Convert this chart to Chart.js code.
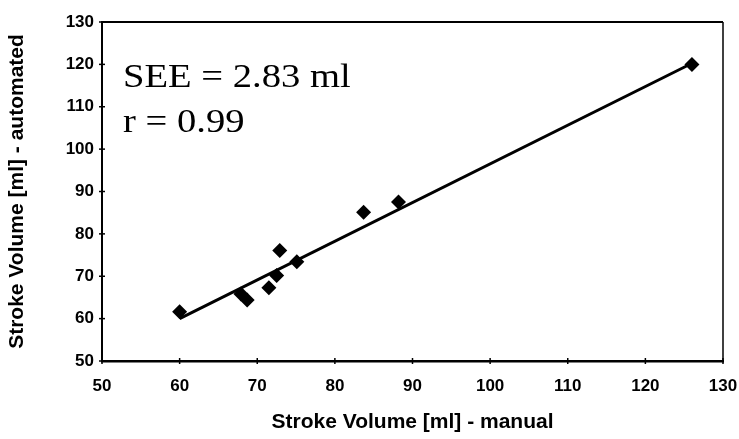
<!DOCTYPE html>
<html>
<head>
<meta charset="utf-8">
<script src="https://cdn.jsdelivr.net/npm/chart.js@4"></script>
<style>
  html, body { margin: 0; padding: 0; background: #fff; }
  canvas { display: block; }
</style>
</head>
<body>
<canvas id="c" width="739" height="439"></canvas>
<script>
// ---- data ----
const manualSV = [60.0, 67.9, 68.7, 71.5, 72.5, 72.9, 75.1, 83.7, 88.2, 126.0];
const autoSV   = [61.6, 65.8, 64.4, 67.3, 70.2, 76.1, 73.4, 85.1, 87.5, 120.0];
const fitX = [60, 125.5];
const fitY = [60.0, 119.8];
const xTicks = [50, 60, 70, 80, 90, 100, 110, 120, 130];
const yTicks = [50, 60, 70, 80, 90, 100, 110, 120, 130];
const statLines = ['SEE = 2.83 ml', 'r = 0.99'];
const xTitle = 'Stroke Volume [ml] - manual';
const yTitle = 'Stroke Volume [ml] - automated';

const points = manualSV.map((x, i) => ({ x: x, y: autoSV[i] }));
const fit = fitX.map((x, i) => ({ x: x, y: fitY[i] }));

const frameAndTicks = {
  id: 'frameAndTicks',
  afterDraw(chart) {
    const { ctx, chartArea: a, scales } = chart;
    ctx.save();
    ctx.strokeStyle = '#000';
    ctx.lineWidth = 2;
    ctx.beginPath();
    ctx.moveTo(a.left, a.top);
    ctx.lineTo(a.right, a.top);
    ctx.stroke();
    ctx.lineWidth = 1.5;
    ctx.beginPath();
    ctx.moveTo(a.right, a.top);
    ctx.lineTo(a.right, a.bottom);
    ctx.stroke();
    ctx.lineWidth = 1.5;
    xTicks.forEach(v => {
      const px = scales.x.getPixelForValue(v);
      ctx.beginPath();
      ctx.moveTo(px, a.bottom - 3);
      ctx.lineTo(px, a.bottom + 3);
      ctx.stroke();
    });
    yTicks.forEach(v => {
      const py = scales.y.getPixelForValue(v);
      ctx.beginPath();
      ctx.moveTo(a.left - 3, py);
      ctx.lineTo(a.left + 3, py);
      ctx.stroke();
    });
    ctx.restore();
  }
};

const statText = {
  id: 'statText',
  afterDraw(chart) {
    const { ctx, chartArea: a } = chart;
    ctx.save();
    ctx.fillStyle = '#000';
    ctx.font = '33px "Liberation Serif", "Times New Roman", serif';
    ctx.textBaseline = 'alphabetic';
    ctx.textAlign = 'left';
    statLines.forEach((t, i) => {
      ctx.save();
      ctx.translate(a.left + 21, a.top + 65 + i * 45);
      ctx.scale(1.17, 1);
      ctx.fillText(t, 0, 0);
      ctx.restore();
    });
    ctx.restore();
  }
};

const tickFont = { family: '"Liberation Sans", Arial, sans-serif', size: 17, weight: 'bold' };
const titleFont = { family: '"Liberation Sans", Arial, sans-serif', size: 21, weight: 'bold' };

new Chart(document.getElementById('c'), {
  type: 'scatter',
  data: {
    datasets: [
      {
        label: 'fit',
        data: fit,
        showLine: true,
        borderColor: '#000',
        borderWidth: 3,
        pointRadius: 0,
        fill: false,
        order: 2
      },
      {
        label: 'points',
        data: points,
        pointStyle: 'rectRot',
        pointRadius: 7.5,
        pointBackgroundColor: '#000',
        pointBorderColor: '#000',
        pointBorderWidth: 0,
        order: 1
      }
    ]
  },
  options: {
    responsive: false,
    animation: false,
    events: [],
    layout: { padding: { left: 0, top: 22, right: 16, bottom: 0 } },
    plugins: { legend: { display: false }, tooltip: { enabled: false } },
    scales: {
      x: {
        type: 'linear',
        min: 50, max: 130,
        afterFit(s) { s.height = 78; s.paddingRight = 0; s.paddingLeft = 0; },
        afterBuildTicks(s) { s.ticks = xTicks.map(v => ({ value: v })); },
        grid: { display: false, drawTicks: false },
        border: { display: true, color: '#000', width: 2.5 },
        ticks: { color: '#000', padding: 15, font: tickFont },
        title: { display: true, text: xTitle, color: '#000', padding: { top: 0, bottom: 4 }, font: titleFont }
      },
      y: {
        type: 'linear',
        min: 50, max: 130,
        afterFit(s) { s.width = 102; },
        afterBuildTicks(s) { s.ticks = yTicks.map(v => ({ value: v })); },
        grid: { display: false, drawTicks: false },
        border: { display: true, color: '#000', width: 2 },
        ticks: { color: '#000', padding: 8, font: tickFont },
        title: { display: true, text: yTitle, color: '#000', padding: { top: 5, bottom: 0 }, font: titleFont }
      }
    }
  },
  plugins: [frameAndTicks, statText]
});
</script>
</body>
</html>
